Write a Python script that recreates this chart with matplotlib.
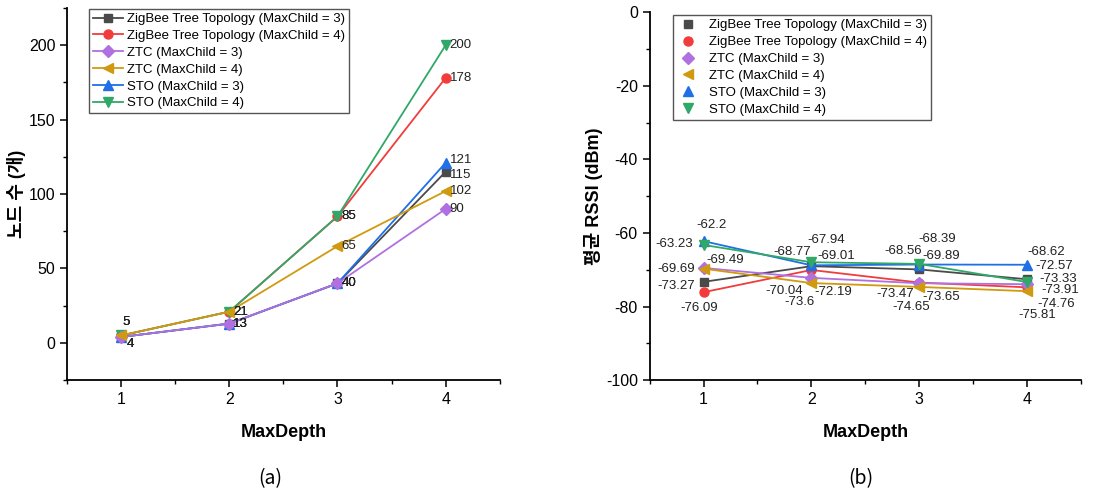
#!/usr/bin/env python3
"""Node count and mean RSSI by MaxDepth for ZigBee tree / ZTC / STO."""

import matplotlib

matplotlib.use("Agg")
import matplotlib.pyplot as plt
from matplotlib.ticker import MultipleLocator

plt.rcParams["font.family"] = ["Liberation Sans", "Noto Sans CJK KR", "DejaVu Sans"]
plt.rcParams["axes.unicode_minus"] = False

MAX_DEPTH = [1, 2, 3, 4]
SERIES = [
    "ZigBee Tree Topology (MaxChild = 3)",
    "ZigBee Tree Topology (MaxChild = 4)",
    "ZTC (MaxChild = 3)",
    "ZTC (MaxChild = 4)",
    "STO (MaxChild = 3)",
    "STO (MaxChild = 4)",
]

# (a) number of nodes
nodes_zb3 = [4, 13, 40, 115]
nodes_zb4 = [5, 21, 85, 178]
nodes_ztc3 = [4, 13, 40, 90]
nodes_ztc4 = [5, 21, 65, 102]
nodes_sto3 = [4, 13, 40, 121]
nodes_sto4 = [5, 21, 85, 200]

# (b) mean RSSI (dBm)
rssi_zb3 = [-73.27, -69.01, -69.89, -72.57]
rssi_zb4 = [-76.09, -70.04, -73.47, -74.76]
rssi_ztc3 = [-69.49, -72.19, -73.65, -73.91]
rssi_ztc4 = [-69.69, -73.6, -74.65, -75.81]
rssi_sto3 = [-62.2, -68.77, -68.56, -68.62]
rssi_sto4 = [-63.23, -67.94, -68.39, -73.33]

NODES = [nodes_zb3, nodes_zb4, nodes_ztc3, nodes_ztc4, nodes_sto3, nodes_sto4]
RSSI = [rssi_zb3, rssi_zb4, rssi_ztc3, rssi_ztc4, rssi_sto3, rssi_sto4]

COLORS = ["#4a4a4a", "#f23c3c", "#b070e0", "#d09a10", "#1f6fe6", "#30a868"]
MARKERS = ["s", "o", "D", "<", "^", "v"]
MSIZES = [6, 6.5, 6, 7.5, 7.5, 7.5]
ZORDERS_A = [2, 2, 3.2, 3.3, 2.5, 2.6]

# label offsets in pixels (dx, dy, ha)
R = (4, 0, "left")
NODE_OFFSETS = [
    [(9, -7, "center"), R, R, (4, -3, "left")],
    [(5, 13, "center"), R, R, R],
    [(9, -7, "center"), R, R, R],
    [(5, 13, "center"), R, R, R],
    [(9, -7, "center"), R, R, (4, 3, "left")],
    [(5, 13, "center"), R, R, R],
]
RSSI_OFFSETS = [
    [(-9, -4, "right"), (6, 10, "left"), (3, 13, "left"), (8, 13, "left")],
    [(-4, -16, "center"), (-8, -21, "right"), (-5, -11, "right"), (10, -17, "left")],
    [(3, 8, "left"), (3, -14, "left"), (3, -14, "left"), (14, -6, "left")],
    [(-9, 0, "right"), (-12, -19, "center"), (-8, -20, "center"), (10, -24, "center")],
    [(8, 16, "center"), (-19, 13, "center"), (-16, 14, "center"), (19, 13, "center")],
    [(-11, 1, "right"), (15, 22, "center"), (18, 25, "center"), (12, 3, "left")],
]


def style_axes(ax):
    for side in ("top", "right"):
        ax.spines[side].set_visible(False)
    for side in ("left", "bottom"):
        ax.spines[side].set_linewidth(1.3)
    ax.tick_params(which="major", direction="out", length=5, width=1.1, labelsize=11.5)
    ax.tick_params(which="minor", direction="out", length=3, width=1.0)
    ax.set_xlim(0.5, 4.5)
    ax.set_xticks(MAX_DEPTH)
    ax.xaxis.set_minor_locator(MultipleLocator(0.5))
    ax.set_xlabel("MaxDepth", fontsize=13, fontweight="bold", labelpad=12)


fig = plt.figure(figsize=(11.18, 4.95), dpi=100)
ax1 = fig.add_axes([0.060, 0.232, 0.387, 0.752])
ax2 = fig.add_axes([0.581, 0.232, 0.386, 0.743])

# (a)
for name, vals, col, mk, ms, offs, zo in zip(SERIES, NODES, COLORS, MARKERS, MSIZES,
                                            NODE_OFFSETS, ZORDERS_A):
    ax1.plot(MAX_DEPTH, vals, color=col, marker=mk, markersize=ms, linewidth=1.3,
             label=name, zorder=zo)
    for x, v, (dx, dy, ha) in zip(MAX_DEPTH, vals, offs):
        ax1.annotate(str(v), (x, v), xytext=(dx, dy), textcoords="offset pixels",
                     ha=ha, va="center", fontsize=9.5, color="#222222", zorder=5)
style_axes(ax1)
ax1.set_ylim(-25, 225)
ax1.set_yticks([0, 50, 100, 150, 200])
ax1.yaxis.set_minor_locator(MultipleLocator(25))
ax1.set_ylabel("노드 수 (개)", fontsize=13, fontweight="bold", labelpad=2)
leg1 = ax1.legend(loc="upper left", bbox_to_anchor=(0.035, 1.015), fontsize=9.5,
                  handlelength=2.3, labelspacing=0.35, borderpad=0.3, handletextpad=0.3,
                  fancybox=False, framealpha=1)
leg1.get_frame().set_edgecolor("#555555")
leg1.get_frame().set_linewidth(1.0)

# (b)
for name, vals, col, mk, ms, offs in zip(SERIES, RSSI, COLORS, MARKERS, MSIZES, RSSI_OFFSETS):
    ax2.plot(MAX_DEPTH, vals, color=col, marker=mk, markersize=ms, linewidth=1.3, label=name)
    for x, v, (dx, dy, ha) in zip(MAX_DEPTH, vals, offs):
        ax2.annotate(f"{v:g}", (x, v), xytext=(dx, dy), textcoords="offset pixels",
                     ha=ha, va="center", fontsize=9.5, color="#222222")
style_axes(ax2)
ax2.set_ylim(-100, 0)
ax2.set_yticks([-100, -80, -60, -40, -20, 0])
ax2.yaxis.set_minor_locator(MultipleLocator(10))
ax2.set_ylabel("평균 RSSI (dBm)", fontsize=13, fontweight="bold", labelpad=2)
handles = [plt.Line2D([], [], linestyle="none", color=c, marker=m, markersize=s)
           for c, m, s in zip(COLORS, MARKERS, MSIZES)]
leg2 = ax2.legend(handles, SERIES, loc="upper left", bbox_to_anchor=(0.04, 1.01),
                  fontsize=9.5, handlelength=1.6, labelspacing=0.35, borderpad=0.3,
                  handletextpad=0.8, fancybox=False, framealpha=1)
leg2.get_frame().set_edgecolor("#555555")
leg2.get_frame().set_linewidth(1.0)

fig.text(0.2415, 0.033, "(a)", ha="center", va="center", fontsize=14,
         family=["Noto Sans CJK KR", "DejaVu Sans"])
fig.text(0.770, 0.033, "(b)", ha="center", va="center", fontsize=14,
         family=["Noto Sans CJK KR", "DejaVu Sans"])

fig.savefig("out.png", dpi=100)
